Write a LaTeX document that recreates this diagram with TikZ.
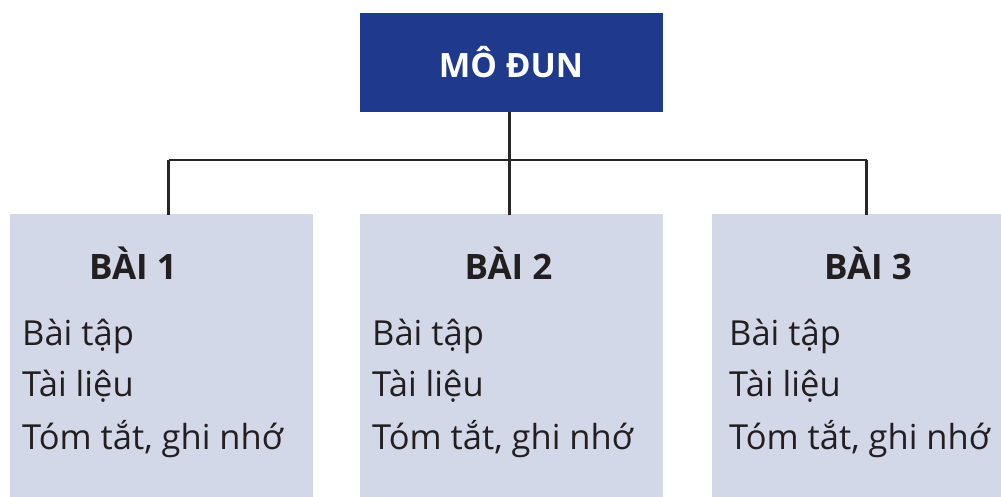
\documentclass[tikz,border=0pt]{standalone}
\usepackage{fontspec}
\setmainfont{Open Sans}
\definecolor{modblue}{RGB}{31,57,140}
\definecolor{lessonbg}{RGB}{211,216,232}
\definecolor{ink}{RGB}{35,31,32}
\definecolor{wire}{RGB}{40,38,38}
\begin{document}
\begin{tikzpicture}[x=1pt,y=-1pt,
  modbox/.style={fill=modblue, draw=none, inner sep=0pt, minimum width=303pt, minimum height=99pt, anchor=north west},
  lessonbox/.style={fill=lessonbg, draw=none, inner sep=0pt, minimum height=283pt, anchor=north west},
  lessontitle/.style={anchor=base, inner sep=0pt, text=ink, font=\fontsize{35}{40}\selectfont\bfseries},
  item/.style={anchor=base west, inner sep=0pt, text=ink, font=\fontsize{34.5}{40}\selectfont},
  wireline/.style={draw=wire, line width=2.6pt}]
\useasboundingbox (0,0) rectangle (1001,496);

% module box
\node[modbox] (mod) at (360,13) {};
\node[anchor=base, inner sep=0pt, text=white, font=\fontsize{33.5}{40}\selectfont\bfseries] (modlabel) at (511,77.7) {MÔ ĐUN};

% lesson boxes
\node[lessonbox, minimum width=303pt] (b1) at (10,213.5) {};
\node[lessonbox, minimum width=303pt] (b2) at (360,213.5) {};
\node[lessonbox, minimum width=292pt] (b3) at (712,213.5) {};

% tree connectors
\coordinate (hub) at (509.5,160);
\coordinate (l1) at (168.5,160);
\coordinate (l3) at (866.5,160);
\coordinate (t1) at (168.5,215);
\coordinate (t2) at (509.5,215);
\coordinate (t3) at (866.5,215);
\draw[wireline] (mod.south -| hub) -- (t2);
\draw[wireline] (l1) -- (l3);
\draw[wireline] (l1) -- (t1);
\draw[wireline] (l3) -- (t3);

% lesson contents
\node[lessontitle] (h1) at (133,279) {BÀI 1};
\node[lessontitle] (h2) at (508.5,279) {BÀI 2};
\node[lessontitle] (h3) at (868,279) {BÀI 3};

\foreach \n/\x in {1/22, 2/372, 3/729} {
  \node[item] (ex\n) at (\x,345) {Bài tập};
  \node[item] (doc\n) at (\x,396.7) {Tài liệu};
  \node[item] (sum\n) at (\x,449) {Tóm tắt, ghi nhớ};
}
\end{tikzpicture}
\end{document}
